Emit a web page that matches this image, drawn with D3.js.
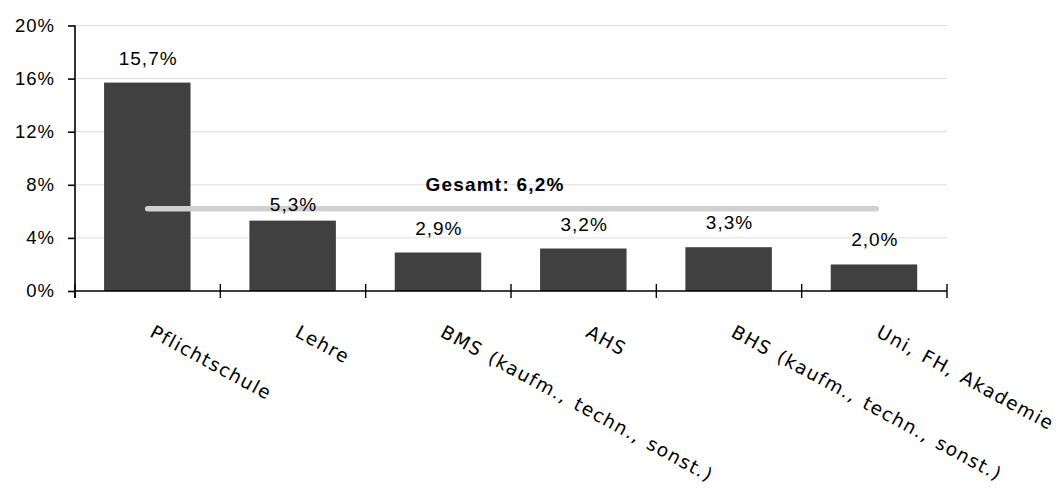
<!DOCTYPE html>
<meta charset="utf-8">
<html>
<head>
<style>
body { margin: 0; background: #fff; }
.tick text, .val { font-family: "Liberation Sans", Arial, sans-serif; }
</style>
</head>
<body>
<script src="https://cdn.jsdelivr.net/npm/d3@7"></script>
<script>

var categories = ["Pflichtschule", "Lehre", "BMS (kaufm., techn., sonst.)", "AHS", "BHS (kaufm., techn., sonst.)", "Uni, FH, Akademie"];
var values = [15.7, 5.3, 2.9, 3.2, 3.3, 2.0];
var valueLabels = ["15,7%", "5,3%", "2,9%", "3,2%", "3,3%", "2,0%"];
var yTicks = [0, 4, 8, 12, 16, 20];
var total = 6.2;
var totalLabel = "Gesamt: 6,2%";

var W = 1063, H = 497;
var mLeft = 75, mRight = 947, mTop = 25.5, mBottom = 291;

var svg = d3.select("body").append("svg")
  .attr("width", W)
  .attr("height", H);

var xc = d3.scaleBand().domain(categories).range([mLeft, mRight]);

var y = d3.scaleLinear()
  .domain([0, 20])
  .range([mBottom, mTop]);

// gridlines
svg.append("g")
  .selectAll("line")
  .data(yTicks.filter(function(d) { return d > 0; }))
  .enter().append("line")
  .attr("x1", mLeft).attr("x2", mRight)
  .attr("y1", function(d) { return y(d); })
  .attr("y2", function(d) { return y(d); })
  .attr("stroke", "#dedede")
  .attr("stroke-width", 1);

// bars
svg.append("g")
  .selectAll("rect")
  .data(values)
  .enter().append("rect")
  .attr("x", function(d, i) { return xc(categories[i]) + xc.bandwidth() * 0.2; })
  .attr("width", xc.bandwidth() * 0.595)
  .attr("y", function(d) { return y(d); })
  .attr("height", function(d) { return mBottom - y(d); })
  .attr("fill", "#404040");

// total line
var c0 = xc(categories[0]) + xc.bandwidth() / 2,
    c1 = xc(categories[categories.length - 1]) + xc.bandwidth() / 2;
svg.append("line")
  .attr("x1", c0).attr("x2", c1 + 2)
  .attr("y1", y(total)).attr("y2", y(total))
  .attr("stroke", "#d0d0d0")
  .attr("stroke-width", 5.5)
  .attr("stroke-linecap", "round");

// value labels (the "Lehre" label sits lower, on the total line)
svg.append("g")
  .selectAll("text")
  .data(values)
  .enter().append("text")
  .attr("class", "val")
  .attr("x", function(d, i) { return xc(categories[i]) + xc.bandwidth() / 2 + 0.5; })
  .attr("y", function(d, i) { return y(d) - (i == 1 ? 10 : 18); })
  .attr("text-anchor", "middle")
  .attr("font-size", "19px")
  .attr("letter-spacing", "1px")
  .attr("fill", "#000")
  .text(function(d, i) { return valueLabels[i]; });

svg.append("text")
  .attr("class", "val")
  .attr("x", (mLeft + mRight) / 2 - 16)
  .attr("y", y(total) - 18)
  .attr("text-anchor", "middle")
  .attr("font-size", "19px")
  .attr("font-weight", "bold")
  .attr("letter-spacing", "1.2px")
  .text(totalLabel);

// y axis
var yAxis = d3.axisLeft(y).tickValues(yTicks).tickSize(7).tickPadding(13)
  .tickFormat(function(d) { return d + "%"; });
var gy = svg.append("g")
  .attr("transform", "translate(" + mLeft + ",0)")
  .call(yAxis);
gy.select(".domain").attr("stroke", "#000").attr("stroke-width", 1.6)
  .attr("d", "M0," + mTop + "V" + (mBottom + 7));
gy.selectAll(".tick line").attr("stroke", "#000").attr("stroke-width", 1.6);
gy.selectAll(".tick text")
  .attr("font-size", "18.5px")
  .attr("letter-spacing", "1px")
  .attr("fill", "#000");

// x axis: ticks at category boundaries
var bounds = categories.map(function(c) { return xc(c); }).concat([mRight]);
var gx = svg.append("g");
gx.append("line")
  .attr("x1", mLeft).attr("x2", mRight)
  .attr("y1", mBottom).attr("y2", mBottom)
  .attr("stroke", "#000").attr("stroke-width", 1.6);
gx.selectAll(".bt")
  .data(bounds)
  .enter().append("line")
  .attr("class", "bt")
  .attr("x1", function(d) { return d; }).attr("x2", function(d) { return d; })
  .attr("y1", mBottom - 7).attr("y2", mBottom + 7)
  .attr("stroke", "#000").attr("stroke-width", 1.4);

// x labels
gx.selectAll(".xl")
  .data(categories)
  .enter().append("text")
  .attr("class", "xl")
  .attr("transform", function(d) {
    return "translate(" + (xc(d) + xc.bandwidth() / 2 + 1) + "," + (mBottom + 45) + ") rotate(28.5)";
  })
  .attr("font-family", "'DejaVu Sans', Verdana, sans-serif")
  .attr("font-size", "18.5px")
  .attr("letter-spacing", "1.4px")
  .attr("word-spacing", "2px")
  .attr("fill", "#000")
  .text(function(d) { return d; });

</script>
</body>
</html>
